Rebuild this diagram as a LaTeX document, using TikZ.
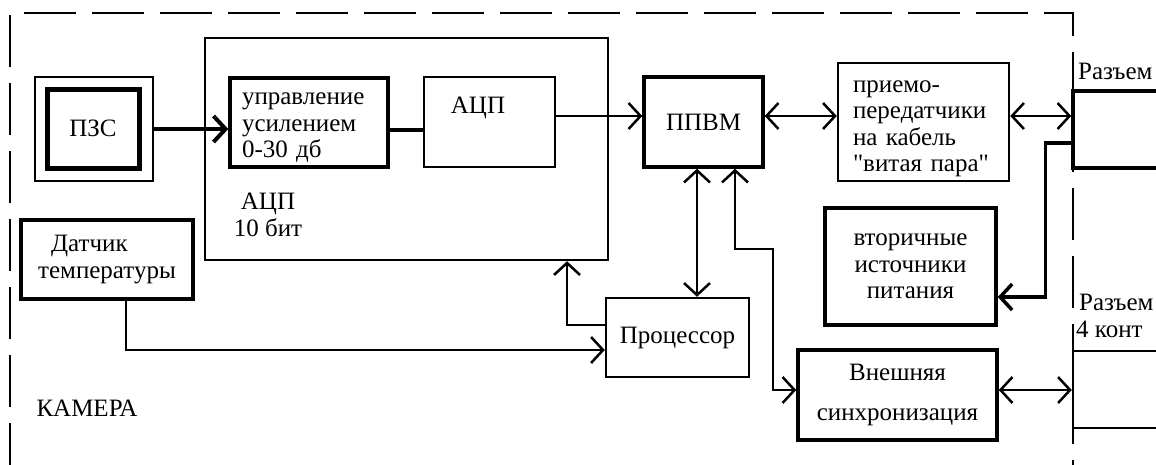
\documentclass[tikz,border=0pt]{standalone}
\usepackage{fontspec}
\setmainfont{Liberation Serif}[Ligatures=TeXOff]
\usetikzlibrary{arrows.meta,positioning}

\begin{document}
\begin{tikzpicture}[x=1pt, y=-1pt,
    font=\fontsize{25}{26.5}\selectfont,
    blk/.style={draw, line width=3.5pt, inner sep=0pt},
    thinblk/.style={draw, line width=2.5pt, inner sep=0pt},
    lnk/.style={line width=2.5pt},
    arr/.style={lnk, -{Straight Barb[length=12pt, width=26pt]}},
    darr/.style={lnk, {Straight Barb[length=12pt, width=26pt]}-{Straight Barb[length=12pt, width=26pt]}},
    frame/.style={line width=1.5pt, dash pattern=on 52pt off 16pt}
]
\useasboundingbox (0,0) rectangle (1156,464);
\clip (0,0) rectangle (1156,464);

% camera frame
\draw[frame] (10,475) -- (10,13) -- (1073,13) -- (1073,475);

% blocks
\node[thinblk, minimum width=403pt, minimum height=222pt] (adcbig) at (406.5,149) {};
\node[align=center] (adcbigt) at (268,215) {АЦП\\10 бит};
\node[thinblk, minimum width=118pt, minimum height=104pt] (pzsout) at (94,129) {};
\node[blk, line width=5pt, minimum width=92pt, minimum height=79pt] (pzs) at (93,128.5) {ПЗС};
\node[blk, minimum width=158pt, minimum height=89pt] (gain) at (309,122.5) {};
\node[text width=134pt, align=left] (gaint) at (309,128) {управление\\усилением\\0-30 дб};
\node[thinblk, minimum width=131pt, minimum height=90pt] (adc) at (489.5,122) {};
\node (adct) at (478,108) {АЦП};
\node[blk, minimum width=119pt, minimum height=90pt] (ppvm) at (703.5,122) {ППВМ};
\node[thinblk, minimum width=171pt, minimum height=118pt] (trx) at (923.5,122) {};
\node[text width=141pt, align=left] (trxt) at (923.5,129) {приемо-\\передатчики\\на кабель\\"витая пара"};
\node[blk, minimum width=171pt, minimum height=117pt, align=center] (pwr) at (910.5,266.5) {вторичные\\источники\\питания};
\node[blk, minimum width=172pt, minimum height=79pt, align=left] (sens) at (107,259.5) {\hspace*{13pt}Датчик\\температуры};
\node[thinblk, minimum width=143pt, minimum height=79pt] (proc) at (677.5,337.5) {Процессор};
\node[blk, minimum width=199pt, minimum height=90pt, align=center] (sync) at (897.5,395) {Внешняя\\[14pt]синхронизация};
\node[blk, minimum width=127pt, minimum height=77pt] (con1) at (1136.5,129.5) {};
\node[thinblk, minimum width=127pt, minimum height=77pt] (con2) at (1136.5,389.5) {};

% labels
\node[anchor=west] (cam) at (33,408) {КАМЕРА};
\node[anchor=west, inner sep=0pt] (con1t) at (1078,71) {Разъем};
\node[anchor=west, inner sep=0pt, align=left] (con2t) at (1076,316) {\hspace*{3pt}Разъем\\4 конт};

% links
\draw[arr, line width=4pt] (pzsout.east) -- (pzsout.east -| gain.west);
\draw[lnk, line width=4pt] ([yshift=-7.5pt]gain.east) -- ([yshift=-7.5pt]gain.east -| adc.west);
\draw[arr] ([yshift=6pt]adc.east) -- ([yshift=6pt]adc.east -| ppvm.west);
\draw[darr] ([yshift=6pt]ppvm.east) -- ([yshift=6pt]ppvm.east -| trx.west);
\draw[darr] ([yshift=6pt]trx.east) -- ([yshift=6pt]trx.east -| con1.west);
\draw[arr, line width=3.5pt] ([yshift=-13.5pt]con1.west) -- ++(-26,0) |- ([yshift=-30.5pt]pwr.east);
\draw[darr] ([xshift=-6.5pt]ppvm.south) -- ([xshift=-6.5pt]ppvm.south |- proc.north);
\draw[darr] ([xshift=31.5pt]ppvm.south) |- ++(38,80) |- ([yshift=5pt]sync.west);
\draw[arr] ([yshift=12.5pt]proc.west) -| ([xshift=160.5pt]adcbig.south);
\draw[arr] ([xshift=19pt]sens.south) |- ([yshift=-12.5pt]proc.west);
\draw[darr] ([yshift=5pt]sync.east) -- ([yshift=5pt]sync.east -| con2.west);
\end{tikzpicture}
\end{document}
